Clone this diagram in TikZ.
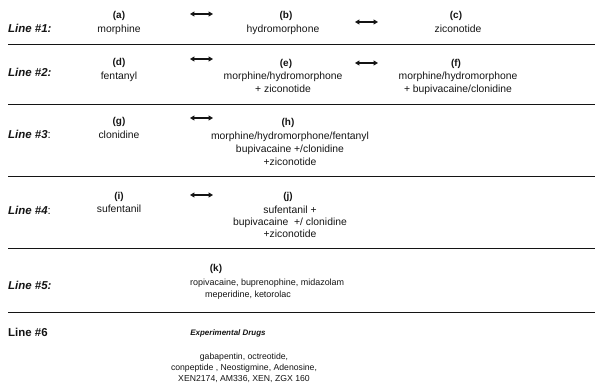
\documentclass[tikz,border=0pt]{standalone}
\usepackage{fontspec}
\setmainfont{Liberation Sans}
\usepackage{xcolor}
\usetikzlibrary{arrows.meta}
\definecolor{inkgray}{RGB}{20,20,20}

\begin{document}
\begin{tikzpicture}[x=1bp,y=-1bp,
  every node/.style={inner sep=0pt,text=inkgray},
  linelab/.style={font=\fontsize{11.5}{13}\selectfont\bfseries\itshape,anchor=north west},
  tag/.style={font=\fontsize{10}{12}\selectfont\bfseries,anchor=north},
  drug/.style={font=\fontsize{10.4}{12.8}\selectfont,align=center,anchor=north},
  small/.style={font=\fontsize{8.7}{11}\selectfont,align=center,anchor=north},
  rulebar/.style={draw=inkgray,line width=.9pt},
  pair/.style={{Triangle[length=4.5pt,width=5pt]}-{Triangle[length=4.5pt,width=5pt]},draw=inkgray,line width=1.3pt}]

\path[use as bounding box] (0,0) rectangle (595,385);

% row labels
\node[linelab] (l1) at (8,24) {Line \#1:};
\node[linelab] (l2) at (8,68) {Line \#2:};
\node[linelab] (l3) at (8,130) {Line \#3\textmd{\upshape:}};
\node[linelab] (l4) at (8,206) {Line \#4\textmd{\upshape:}};
\node[linelab] (l5) at (8,281) {Line \#5:};
\node[linelab,font=\fontsize{11.5}{13}\selectfont\bfseries] (l6) at (8,328) {Line \#6};

% separators
\foreach \yy in {44,104,176,248,312}
  \draw[rulebar] (8,\yy) -- (595,\yy);

% line 1
\node[tag] (taga) at (119,11) {(a)};
\node[drug] (a) at (119,25) {morphine};
\node[tag] (tagb) at (286,11) {(b)};
\node[drug] (b) at (283,25) {hydromorphone};
\node[tag] (tagc) at (456,11) {(c)};
\node[drug] (c) at (458,25) {ziconotide};

% line 2
\node[tag] (tagd) at (119,58) {(d)};
\node[drug] (d) at (119,72) {fentanyl};
\node[tag] (tage) at (286,59) {(e)};
\node[drug] (e) at (283,72) {morphine/hydromorphone\\+ ziconotide};
\node[tag] (tagf) at (456,59) {(f)};
\node[drug] (f) at (458,72) {morphine/hydromorphone\\+ bupivacaine/clonidine};

% line 3
\node[tag] (tagg) at (119,117) {(g)};
\node[drug] (g) at (119,131) {clonidine};
\node[tag] (tagh) at (288,118) {(h)};
\node[drug] (h) at (290,132) {morphine/hydromorphone/fentanyl\\bupivacaine +/clonidine\\+ziconotide};

% line 4
\node[tag] (tagi) at (119,192) {(i)};
\node[drug] (i) at (119,205) {sufentanil};
\node[tag] (tagj) at (288,192) {(j)};
\node[drug,font=\fontsize{10.4}{12}\selectfont] (j) at (290,206)
  {sufentanil +\\bupivacaine~ +/ clonidine\\+ziconotide};

% line 5
\node[tag] (tagk) at (216,264) {(k)};
\node[small,font=\fontsize{9}{11.5}\selectfont,anchor=north west] (k1) at (190,279)
  {ropivacaine, buprenophine, midazolam};
\node[small,font=\fontsize{9}{11.5}\selectfont,anchor=north west] (k2) at (205,291)
  {meperidine, ketorolac};

% line 6
\node[small,font=\fontsize{8}{9}\selectfont\bfseries\itshape] (exp) at (228,330)
  {Experimental Drugs};
\node[small] (expl) at (244,353)
  {gabapentin, octreotide,\\conpeptide , Neostigmine, Adenosine,\\XEN2174, AM336, XEN, ZGX 160};

% switch arrows
\foreach \nm/\xa/\yy in {ab/190/14,bc/355/22,de/190/59,ef/355/63,gh/190/118,ij/190/195}{
  \coordinate (\nm-l) at (\xa,\yy);
  \coordinate (\nm-r) at (\xa+23,\yy);
  \draw[pair] (\nm-l) -- (\nm-r);
}

\end{tikzpicture}
\end{document}
